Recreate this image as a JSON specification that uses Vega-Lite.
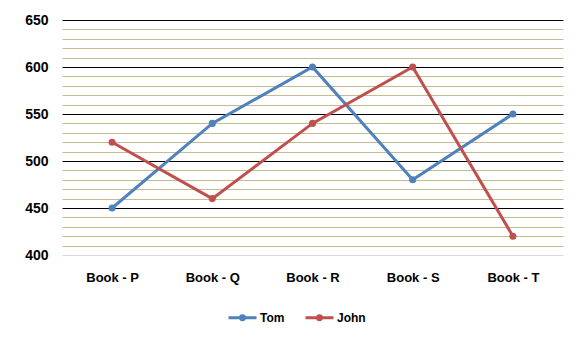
{
  "$schema": "https://vega.github.io/schema/vega-lite/v6.json",
  "width": 501,
  "height": 235,
  "autosize": "none",
  "padding": {"left": 62, "top": 20, "right": 18, "bottom": 86},
  "background": "white",
  "config": {
    "view": {"stroke": null},
    "font": "Liberation Sans"
  },
  "data": {
    "values": [
      {"book": "Book - P", "series": "Tom", "value": 450},
      {"book": "Book - Q", "series": "Tom", "value": 540},
      {"book": "Book - R", "series": "Tom", "value": 600},
      {"book": "Book - S", "series": "Tom", "value": 480},
      {"book": "Book - T", "series": "Tom", "value": 550},
      {"book": "Book - P", "series": "John", "value": 520},
      {"book": "Book - Q", "series": "John", "value": 460},
      {"book": "Book - R", "series": "John", "value": 540},
      {"book": "Book - S", "series": "John", "value": 600},
      {"book": "Book - T", "series": "John", "value": 420}
    ]
  },
  "mark": {"type": "line", "strokeWidth": 3, "point": {"filled": true, "size": 50}},
  "encoding": {
    "x": {
      "field": "book",
      "type": "nominal",
      "sort": null,
      "scale": {"padding": 0.5},
      "axis": {
        "title": null,
        "domain": false,
        "ticks": false,
        "grid": false,
        "labelAngle": 0,
        "labelFont": "Liberation Sans",
        "labelFontWeight": "bold",
        "labelFontSize": 13,
        "labelColor": "black",
        "labelPadding": 16
      }
    },
    "y": {
      "field": "value",
      "type": "quantitative",
      "scale": {"domain": [400, 650], "nice": false, "zero": false},
      "axis": {
        "title": null,
        "domain": false,
        "ticks": false,
        "values": [400, 410, 420, 430, 440, 450, 460, 470, 480, 490, 500, 510, 520, 530, 540, 550, 560, 570, 580, 590, 600, 610, 620, 630, 640, 650],
        "labelExpr": "datum.value % 50 === 0 ? datum.label : ''",
        "labelFont": "Liberation Sans",
        "labelFontWeight": "bold",
        "labelFontSize": 14,
        "labelColor": "black",
        "labelPadding": 14,
        "grid": true,
        "gridWidth": 1,
        "gridOpacity": 1,
        "gridColor": {
          "condition": [
            {"test": "datum.value === 400", "value": "#D9D9D9"},
            {"test": "datum.value % 50 === 0", "value": "#000000"}
          ],
          "value": "#C9BB90"
        }
      }
    },
    "color": {
      "field": "series",
      "type": "nominal",
      "sort": ["Tom", "John"],
      "scale": {"domain": ["Tom", "John"], "range": ["#4F81BD", "#C0504D"]},
      "legend": {
        "title": null,
        "orient": "none",
        "direction": "horizontal",
        "legendX": 165,
        "legendY": 282,
        "symbolType": "M-1,0L1,0M-0.14,0A0.14,0.14 0 1,0 0.14,0A0.14,0.14 0 1,0 -0.14,0Z",
        "symbolSize": 784,
        "symbolStrokeWidth": 3,
        "labelFont": "Liberation Sans",
        "labelFontWeight": "bold",
        "labelFontSize": 12,
        "labelColor": "black",
        "labelOffset": 2,
        "columnPadding": 14
      }
    }
  }
}
